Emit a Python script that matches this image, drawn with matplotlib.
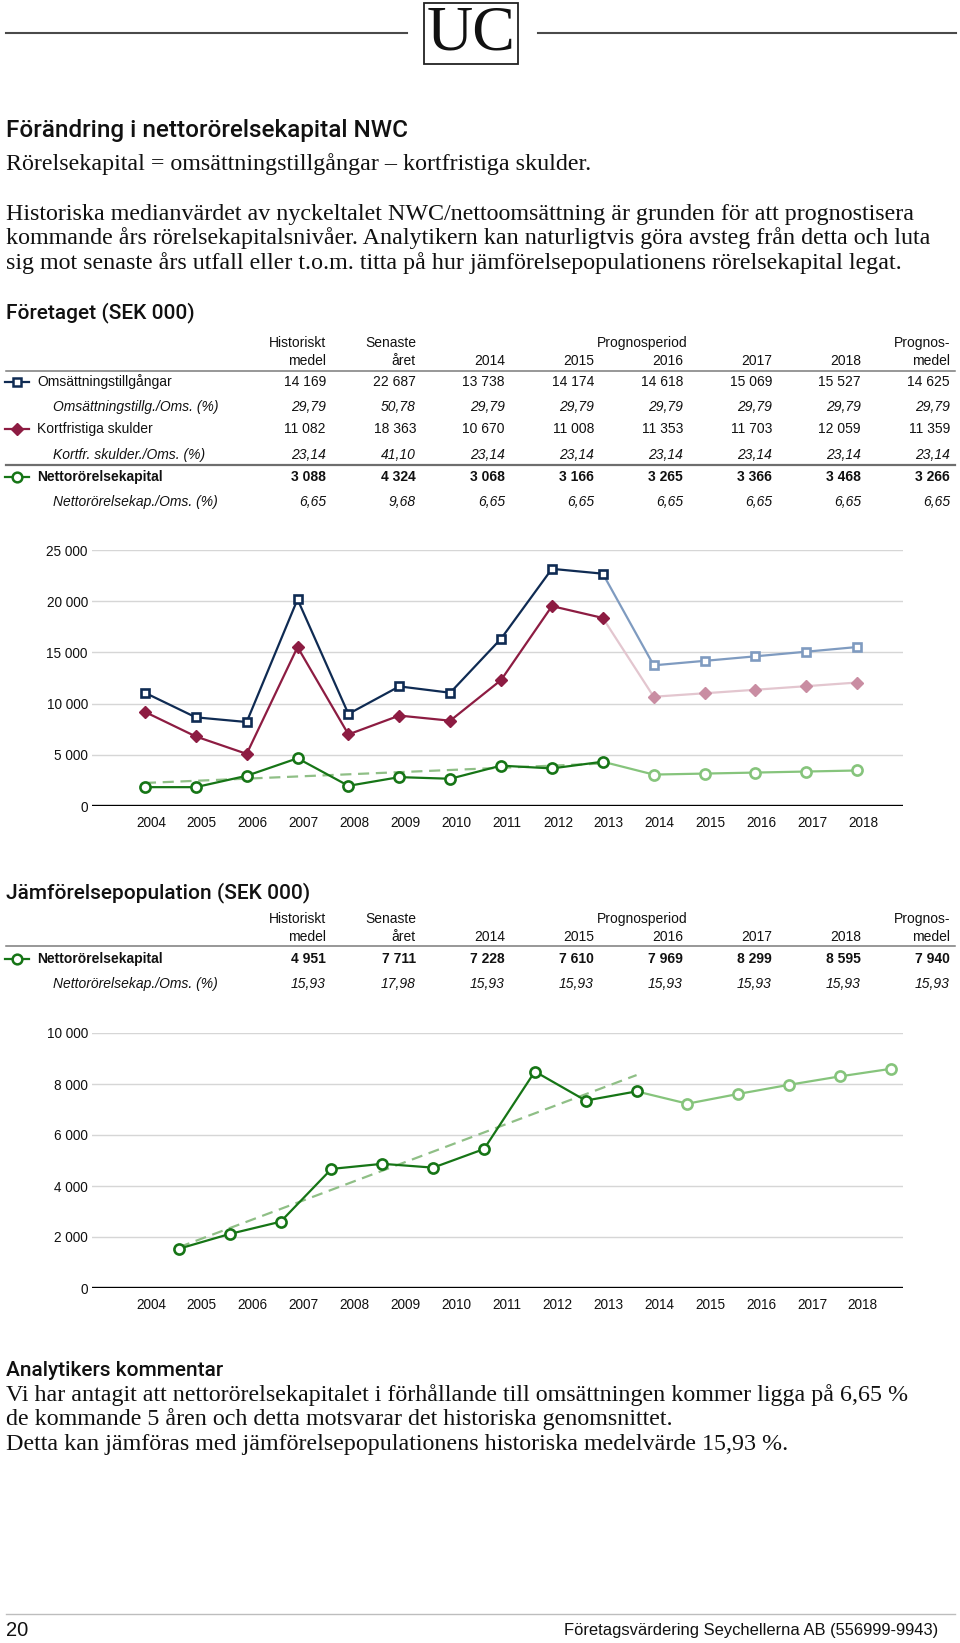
import numpy as np
import matplotlib
matplotlib.use("Agg")
from matplotlib import pyplot as plt
from matplotlib.lines import Line2D
from matplotlib.patches import Rectangle
from matplotlib.ticker import FuncFormatter

W, H = 960, 1643

# --- data ---
years = ["2004", "2005", "2006", "2007", "2008", "2009", "2010", "2011",
         "2012", "2013", "2014", "2015", "2016", "2017", "2018"]
n_hist = 10  # 2004-2013 historic, rest is forecast

oms = [11060, 8660, 8200, 20180, 8990, 11680, 11060, 16340, 23160, 22687,
       13738, 14174, 14618, 15069, 15527]
kfs = [9190, 6790, 5090, 15520, 6990, 8830, 8330, 12300, 19520, 18363,
       10670, 11008, 11353, 11703, 12059]
nwc = [1840, 1840, 2950, 4660, 1970, 2820, 2660, 3940, 3670, 4324,
       3068, 3166, 3265, 3366, 3468]
nwc_trend = [2250, 4150]        # dashed trend at 2004 and 2013

peer_nwc = [1540, 2120, 2600, 4670, 4870, 4720, 5450, 8490, 7350, 7711,
            7228, 7610, 7969, 8299, 8595]
peer_trend = [1600, 8350]

col_head1 = ["Historiskt", "Senaste", "", "", "Prognosperiod", "", "", "Prognos-"]
col_head2 = ["medel", "året", "2014", "2015", "2016", "2017", "2018", "medel"]

oms_row = ["14 169", "22 687", "13 738", "14 174", "14 618", "15 069", "15 527", "14 625"]
oms_pct = ["29,79", "50,78", "29,79", "29,79", "29,79", "29,79", "29,79", "29,79"]
kfs_row = ["11 082", "18 363", "10 670", "11 008", "11 353", "11 703", "12 059", "11 359"]
kfs_pct = ["23,14", "41,10", "23,14", "23,14", "23,14", "23,14", "23,14", "23,14"]
nwc_row = ["3 088", "4 324", "3 068", "3 166", "3 265", "3 366", "3 468", "3 266"]
nwc_pct = ["6,65", "9,68", "6,65", "6,65", "6,65", "6,65", "6,65", "6,65"]
peer_row = ["4 951", "7 711", "7 228", "7 610", "7 969", "8 299", "8 595", "7 940"]
peer_pct = ["15,93", "17,98", "15,93", "15,93", "15,93", "15,93", "15,93", "15,93"]

navy, navy_l = "#0f2b53", "#7f9bc0"
wine, wine_l, wine_ll = "#8d1c42", "#c98da2", "#e3c6cf"
green, green_l, green_t = "#167516", "#86c47c", "#8fbf86"

SANS = "Liberation Sans"
SERIF = "Liberation Serif"
HEAD = "Roboto"
BODY = 17.3

fig = plt.figure(figsize=(W / 100, H / 100), dpi=100)


def put(x, y, s, **kw):
    kw.setdefault("family", SANS)
    kw.setdefault("color", "#111111")
    return fig.text(x / W, 1 - y / H, s, **kw)


def hline(x0, x1, y, **kw):
    fig.add_artist(Line2D([x0 / W, x1 / W], [1 - y / H, 1 - y / H],
                          transform=fig.transFigure, **kw))


# --- page header ---
hline(6, 407, 33, color="#4a4a4a", lw=1.5)
hline(538, 956, 33, color="#4a4a4a", lw=1.5)
fig.add_artist(Rectangle((424 / W, 1 - 64 / H), 94 / W, 61 / H, transform=fig.transFigure,
                         fill=False, ec="#222222", lw=1.3))
put(471, 35, "UC", family=SERIF, fontsize=46, ha="center", va="center")

put(6, 137, "Förändring i nettorörelsekapital NWC", family=HEAD, fontweight="medium",
    fontsize=17.5, va="baseline")
put(6, 170, "Rörelsekapital = omsättningstillgångar – kortfristiga skulder.", family=SERIF,
    fontsize=BODY, va="baseline")
para = ["Historiska medianvärdet av nyckeltalet NWC/nettoomsättning är grunden för att prognostisera",
        "kommande års rörelsekapitalsnivåer. Analytikern kan naturligtvis göra avsteg från detta och luta",
        "sig mot senaste års utfall eller t.o.m. titta på hur jämförelsepopulationens rörelsekapital legat."]
for i, line in enumerate(para):
    put(6, 220 + 24.3 * i, line, family=SERIF, fontsize=BODY, va="baseline")

put(6, 318, "Företaget (SEK 000)", family=HEAD, fontweight="medium", fontsize=15, va="baseline")

# --- tables ---
col_x = [326, 416, 505, 594, 683, 772, 861, 950]
FS = 10


def header(y1, y2, yline):
    for cx, a, b in zip(col_x, col_head1, col_head2):
        if a:
            put(cx + (4 if a == "Prognosperiod" else 0), y1, a, fontsize=FS, ha="right", va="center")
        put(cx, y2, b, fontsize=FS, ha="right", va="center")
    hline(6, 955, yline, color="#7a7a7a", lw=1.1)


def row(y, label, vals, style="normal", weight="normal", lx=37):
    put(lx, y, label, fontsize=FS, va="center", style=style, weight=weight)
    for cx, v in zip(col_x, vals):
        put(cx, y, v, fontsize=FS, ha="right", va="center", style=style, weight=weight)


def icon(y, color, marker, ms, mfc, mew):
    yy = 1 - y / H
    fig.add_artist(Line2D([5 / W, 29 / W], [yy, yy], transform=fig.transFigure,
                          color=color, lw=1.6))
    fig.add_artist(Line2D([17 / W], [yy], transform=fig.transFigure, ls="none",
                          marker=marker, ms=ms, mfc=mfc, mec=color, mew=mew))


header(343, 361, 370.5)
icon(382, navy, "s", 5.5, "white", 1.8)
row(382, "Omsättningstillgångar", oms_row)
row(407, "Omsättningstillg./Oms. (%)", oms_pct, style="italic", lx=53)
icon(429, wine, "D", 6, wine, 1.0)
row(429, "Kortfristiga skulder", kfs_row)
row(455, "Kortfr. skulder./Oms. (%)", kfs_pct, style="italic", lx=53)
hline(6, 955, 465, color="#6e6e6e", lw=1.6)
icon(477, green, "o", 7, "white", 1.8)
row(477, "Nettorörelsekapital", nwc_row, weight="bold")
row(502, "Nettorörelsekap./Oms. (%)", nwc_pct, style="italic", lx=53)

put(6, 898, "Jämförelsepopulation (SEK 000)", family=HEAD, fontweight="medium", fontsize=15,
    va="baseline")
header(919, 937, 946)
icon(959, green, "o", 7, "white", 1.8)
row(959, "Nettorörelsekapital", peer_row, weight="bold")
row(984, "Nettorörelsekap./Oms. (%)", peer_pct, style="italic", lx=53)

# --- charts ---
fmt = FuncFormatter(lambda v, p: f"{int(v):,}".replace(",", " "))


def base_axes(top, bottom, ymax, step, xlim, tick_shift):
    ax = fig.add_axes([92 / W, 1 - bottom / H, (903 - 92) / W, (bottom - top) / H])
    ax.set_xlim(*xlim)
    ax.set_ylim(0, ymax)
    ax.set_yticks(np.arange(0, ymax + 1, step))
    ax.yaxis.set_major_formatter(fmt)
    ax.grid(axis="y", color="#d6d6d6", lw=1.0)
    ax.set_axisbelow(True)
    for s in ax.spines.values():
        s.set_visible(False)
    ax.axhline(0, color="black", lw=1.7, zorder=1)
    ax.set_xticks(np.arange(len(years)) + tick_shift, years)
    ax.tick_params(length=0, labelsize=9.8, colors="#111111")
    ax.tick_params(axis="y", pad=3)
    ax.tick_params(axis="x", pad=7.5)
    for t in ax.get_xticklabels() + ax.get_yticklabels():
        t.set_family(SANS)
    return ax


def series(ax, x, vals, dark, light, marker, ms, filled, mew, line_light=None):
    vals = np.asarray(vals, dtype=float)
    h = slice(0, n_hist)
    f = slice(n_hist - 1, None)
    ll = line_light or light
    ax.plot(x[f], vals[f], color=ll, lw=1.6, zorder=2, clip_on=False)
    ax.plot(x[n_hist:], vals[n_hist:], ls="none", marker=marker, ms=ms,
            mfc=light if filled else "white", mec=light, mew=mew, zorder=3, clip_on=False)
    ax.plot(x[h], vals[h], color=dark, lw=1.6, marker=marker, ms=ms,
            mfc=dark if filled else "white", mec=dark, mew=mew, zorder=4, clip_on=False)


x = np.arange(len(years))

ax1 = base_axes(550, 806, 25000, 5000, (-1.04, 14.9), 0.12)
ax1.plot([x[0], x[n_hist - 1]], nwc_trend, color=green_t, lw=1.6, ls=(0, (5, 3)), zorder=2)
series(ax1, x, oms, navy, navy_l, "s", 5.8, False, 1.9)
series(ax1, x, kfs, wine, wine_l, "D", 6.3, True, 1.0, line_light=wine_ll)
series(ax1, x, nwc, green, green_l, "o", 7.3, False, 1.9)

ax2 = base_axes(1033, 1288, 10000, 2000, (-1.71, 14.24), -0.55)
ax2.plot([x[0], x[n_hist - 1]], peer_trend, color=green_t, lw=1.6, ls=(0, (5, 3)), zorder=2)
series(ax2, x, peer_nwc, green, green_l, "o", 7.3, False, 1.9)

# --- comment and footer ---
put(6, 1376, "Analytikers kommentar", family=HEAD, fontweight="medium", fontsize=15,
    va="baseline")
comment = ["Vi har antagit att nettorörelsekapitalet i förhållande till omsättningen kommer ligga på 6,65 %",
           "de kommande 5 åren och detta motsvarar det historiska genomsnittet.",
           "Detta kan jämföras med jämförelsepopulationens historiska medelvärde 15,93 %."]
for i, line in enumerate(comment):
    put(6, 1401 + 24.5 * i, line, family=SERIF, fontsize=BODY, va="baseline")

hline(6, 955, 1614, color="#bdbdbd", lw=1.0)
put(6, 1631, "20", fontsize=14.5, va="center")
put(938, 1631, "Företagsvärdering Seychellerna AB (556999-9943)", fontsize=11.9, ha="right",
    va="center")

fig.savefig("out.png", dpi=100)
